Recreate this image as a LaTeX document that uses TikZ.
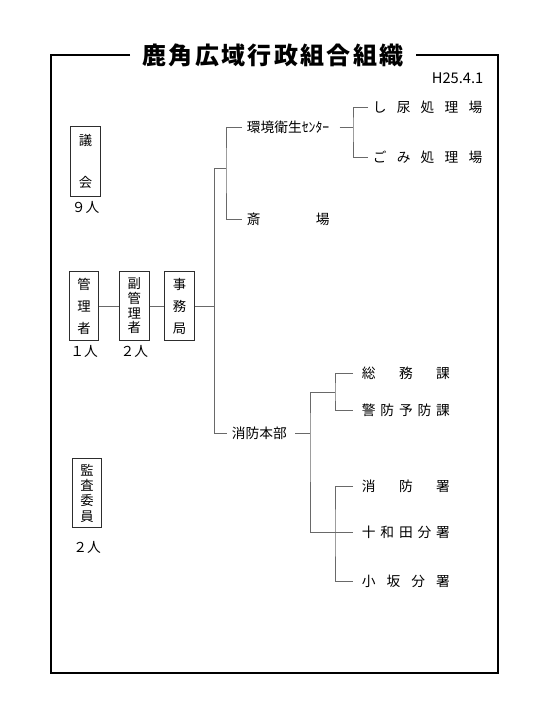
\documentclass[tikz,border=0pt]{standalone}
\usepackage{fontspec}
\setmainfont{Noto Sans CJK JP}
\usetikzlibrary{positioning}
\definecolor{linegray}{RGB}{105,105,105}
\definecolor{boxgray}{RGB}{45,45,45}
\newcommand{\spreadtext}[2]{\makebox[#1][s]{#2}}
\tikzset{
	pitch/.style={font=\fontsize{10}{#1}\selectfont},
}

\begin{document}
\begin{tikzpicture}[x=0.75pt, y=-0.75pt, font=\fontsize{10.3}{12}\selectfont]
    \tikzstyle{frame}=[draw=black, line width=2pt]
    \tikzstyle{post}=[draw=boxgray, line width=0.8pt, rectangle, minimum width=22pt, minimum height=52pt, inner sep=0pt, align=center]
    \tikzstyle{unit}=[inner xsep=3.5pt, inner ysep=0pt, anchor=west]
    \tikzstyle{sect}=[unit, inner xsep=6.5pt]
    \tikzstyle{link}=[draw=linegray, line width=0.75pt]
    \useasboundingbox (0,0) rectangle (549,711);

	% title and frame
	\node[font=\bfseries\fontsize{18}{20}\selectfont, inner xsep=9pt, inner ysep=0pt] (title) at (273,55) {\spreadtext{196pt}{鹿\hfill 角\hfill 広\hfill 域\hfill 行\hfill 政\hfill 組\hfill 合\hfill 組\hfill 織}};
	\draw[frame] (title.west) -- (51,55) -- (51,673) -- (498,673) -- (498,55) -- (title.east);
	\node[anchor=east, font=\fontsize{11}{12}\selectfont] (date) at (488,78) {H25.4.1};

	% left side
	\node[post, pitch=32pt] (gikai) at (85.5,161.5) {議\\会};
	\node[post, pitch=16.5pt] (kanri) at (84,306) {管\\理\\者};
	\node[post, pitch=11pt, right=15pt of kanri] (fuku) {副\\管\\理\\者};
	\node[post, pitch=16.5pt, right=11pt of fuku] (jimu) {事\\務\\局};
	\node[post, pitch=11.5pt] (kansa) at (87,493) {監\\査\\委\\員};

	\node[below=3pt of gikai, inner sep=0pt] (gikainum) {９人};
	\node[below=3pt of kanri, inner sep=0pt] (kanrinum) {１人};
	\node[below=3pt of fuku, inner sep=0pt] (fukunum) {２人};
	\node[below=10pt of kansa, inner sep=0pt] (kansanum) {２人};

	% units
	\node[unit] (kankyo) at (242,127) {環境衛生ｾﾝﾀｰ};
	\node[unit] (saijo) at (242,219) {\spreadtext{62pt}{斎\hfill 場}};
	\node[unit] (shinyo) at (368,107) {\spreadtext{82pt}{し\hfill 尿\hfill 処\hfill 理\hfill 場}};
	\node[unit] (gomi) at (368,157) {\spreadtext{82pt}{ご\hfill み\hfill 処\hfill 理\hfill 場}};
	\node[unit] (honbu) at (227,433) {消防本部};
	\node[sect] (somu) at (353,373) {\spreadtext{66pt}{総\hfill 務\hfill 課}};
	\node[sect] (keibo) at (353,410) {\spreadtext{66pt}{警\hfill 防\hfill 予\hfill 防\hfill 課}};
	\node[sect] (shobo) at (353,486) {\spreadtext{66pt}{消\hfill 防\hfill 署}};
	\node[sect] (towada) at (353,532) {\spreadtext{66pt}{十\hfill 和\hfill 田\hfill 分\hfill 署}};
	\node[sect] (kosaka) at (353,581) {\spreadtext{66pt}{小\hfill 坂\hfill 分\hfill 署}};

	\coordinate (c1) at (214,168);
	\coordinate (e1) at (226,168);
	\coordinate (k1) at (353,127);
	\coordinate (h1) at (310,433);
	\coordinate (h2) at (335,392);
	\coordinate (h3) at (335,532);

	% connectors
	\draw[link] (kanri) -- (fuku);
	\draw[link] (fuku) -- (jimu);
	\draw[link] (jimu.east) -- (jimu.east -| c1);
	\draw[link] (c1) -- (e1);
	\draw[link] (c1) |- (honbu.west);
	\draw[link] (kankyo.west) -| (e1) |- (saijo.west);
	\draw[link, shorten <=4pt] (kankyo.east) -- (k1);
	\draw[link] (shinyo.west) -| (k1) |- (gomi.west);
	\draw[link, shorten <=2.5pt] (honbu.east) -- (h1);
	\draw[link] (h2) -| (h1) |- (h3);
	\draw[link] (somu.west) -| (h2) |- (keibo.west);
	\draw[link] (shobo.west) -| (h3) |- (kosaka.west);
	\draw[link] (h3) -- (towada.west);
\end{tikzpicture}
\end{document}
